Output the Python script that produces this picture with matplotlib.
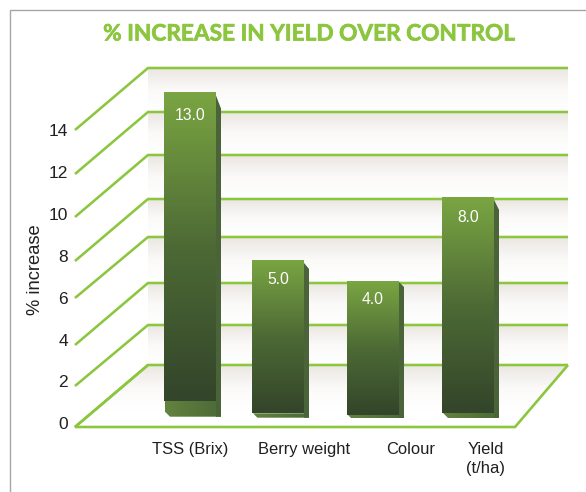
import numpy as np
import matplotlib
matplotlib.use("Agg")
import matplotlib.pyplot as plt
import matplotlib.patheffects as pe
from matplotlib.colors import LinearSegmentedColormap
from matplotlib.patches import Polygon

# ---- data ----
categories = ["TSS (Brix)", "Berry weight", "Colour", "Yield\n(t/ha)"]
values = [13.0, 5.0, 4.0, 8.0]
tick_labels = [0, 2, 4, 6, 8, 10, 12, 14]
title = "% INCREASE IN YIELD OVER CONTROL"
ylabel = "% increase"

# ---- layout, in pixels of the 586x492 canvas ----
W, H = 586, 492
ZERO_PX, PX_PER_UNIT = 365.2, 21.05
bar_left = [164, 252, 347, 442]
bar_width = 52
side_width = 5
bar_bottom_px = [400.7, 413.3, 415, 412.7]
base_bottom_px = [416.7, 417.7, 418, 418]
bevel_top = [(4, 17), (3, 9), (1, 6), (3, 13)]
label_offset = [24, 20, 18, 21]
grid_back_px = [365, 325, 283, 237, 199, 155, 112, 68]
grid_front_px = [427, 386, 345, 298, 261, 217, 174, 130]
tick_label_px = [424.5, 382.5, 341.5, 299.5, 257.5, 215.5, 173.5, 131.5]
cat_center = [190, 304, 411, 485.5]

GREEN = "#8cc63f"
BACK_L, BACK_R, FRONT_L, FLOOR_R = 148, 568, 75, 515


def yv(px):
    """canvas pixel row -> value on the chart's y axis"""
    return (ZERO_PX - px) / PX_PER_UNIT


plt.rcParams["font.family"] = ["Liberation Sans", "DejaVu Sans"]
fig = plt.figure(figsize=(W / 100, H / 100), dpi=100)
ax = fig.add_axes([0, 0, 1, 1])
ax.axis("off")

wall = LinearSegmentedColormap.from_list("wall", ["#ffffff", "#fbfaf9", "#ebe7e2"])
bar_cm = LinearSegmentedColormap.from_list("bar", ["#33452a", "#4d6a35", "#7aa542"])
base_cm = LinearSegmentedColormap.from_list("base", ["#628340", "#4c6a36"])
vgrad = np.linspace(0, 1, 128).reshape(-1, 1)
hgrad = np.linspace(0, 1, 128).reshape(1, -1)

# wall bands
for lo, hi in zip(grid_back_px[1:], grid_back_px[:-1]):
    ax.imshow(vgrad, cmap=wall, origin="lower", aspect="auto", zorder=1,
              extent=(BACK_L, BACK_R, yv(hi), yv(lo)))

# floor band
floor_pts = [(BACK_L, yv(365)), (BACK_R, yv(365)), (FLOOR_R, yv(427)), (FRONT_L, yv(427))]
floor_img = ax.imshow(vgrad, cmap=wall, origin="lower", aspect="auto", zorder=1,
                      extent=(FRONT_L, BACK_R, yv(411), yv(365)))
floor_clip = Polygon(floor_pts, closed=True, transform=ax.transData, fc="none", ec="none")
ax.add_patch(floor_clip)
floor_img.set_clip_path(floor_clip)

# grid lines
for back, front in zip(grid_back_px, grid_front_px):
    ax.plot([FRONT_L, BACK_L, BACK_R], [yv(front), yv(back), yv(back)],
            color=GREEN, lw=1.85, zorder=2, solid_joinstyle="miter", solid_capstyle="butt")
ax.plot([BACK_L, FRONT_L, FLOOR_R, BACK_R], [yv(365), yv(427), yv(427), yv(365)],
        color=GREEN, lw=1.9, zorder=2, solid_joinstyle="miter", solid_capstyle="butt")

# bars
for i, v in enumerate(values):
    x0 = bar_left[i]
    x1 = x0 + bar_width
    x2 = x1 + side_width
    bot_px = bar_bottom_px[i]
    base_px = base_bottom_px[i]
    bot, base = yv(bot_px), yv(base_px)
    b1, b2 = bevel_top[i]
    top_px = ZERO_PX - v * PX_PER_UNIT
    # base (floor-side) face
    inset = min(5, base_px - bot_px)
    base_pts = [(x0 + 1, bot), (x0 + 1, yv(base_px - inset)), (x0 + 1 + inset, base), (x2, base), (x2, bot)]
    im = ax.imshow(hgrad, cmap=base_cm, aspect="auto", zorder=3,
                   extent=(x0, x2, base, bot))
    base_patch = Polygon(base_pts, closed=True, transform=ax.transData, fc="none", ec="none")
    ax.add_patch(base_patch)
    im.set_clip_path(base_patch)
    # side face
    side = Polygon([(x1, yv(top_px + b1)), (x2, yv(top_px + b2)), (x2, base), (x1, base)],
                   closed=True, fc="#4b6338", ec="none", zorder=3.5)
    ax.add_patch(side)
    # front face
    rect = ax.bar(x0, v - bot, width=bar_width, bottom=bot, align="edge",
                  color="#5a7a38", linewidth=0, zorder=4)[0]
    im = ax.imshow(vgrad, cmap=bar_cm, origin="lower", aspect="auto", zorder=4.1,
                   extent=(x0, x1, bot, v))
    im.set_clip_path(rect)
    ax.text(x0 + bar_width / 2, yv(top_px + label_offset[i]), f"{v:.1f}", color="white",
            fontsize=11.3, ha="center", va="center", zorder=5)

ax.set_xlim(0, W)
ax.set_ylim(yv(H), yv(0))

# tick labels
for t, px in zip(tick_labels, tick_label_px):
    ax.text(68, yv(px), str(t), ha="right", va="center", fontsize=12.5, color="#231f20")

# category labels
for c, cx in zip(categories, cat_center):
    ax.text(cx, yv(442), c, ha="center", va="top", fontsize=11.9, color="#231f20",
            linespacing=1.33)

ax.text(35, yv(270), ylabel, rotation=90, ha="center", va="center",
        fontsize=13.2, color="#231f20")

t = ax.text(309.5, yv(34), title, ha="center", va="center", fontsize=16.3,
            fontweight="bold", family="Lato", color=GREEN)
t.set_path_effects([pe.withStroke(linewidth=0.5, foreground=GREEN)])

# panel frame
ax.plot([9.5, 9.5, W], [yv(H), yv(10.3), yv(10.3)], color="#a6a6a6", lw=1.0, zorder=6,
        solid_joinstyle="miter", clip_on=False)

fig.savefig("out.png", dpi=100, facecolor="white")
